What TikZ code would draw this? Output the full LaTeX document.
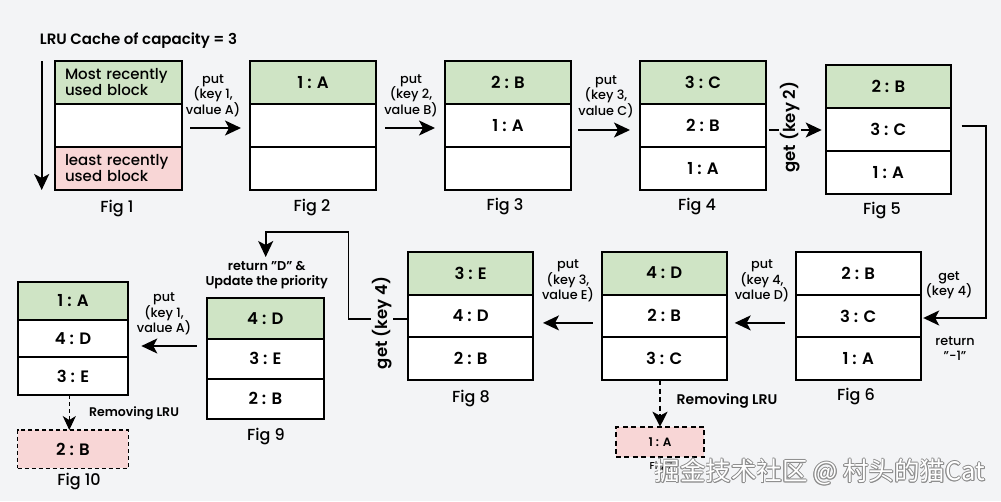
\documentclass[tikz,border=0pt]{standalone}
\usepackage{fontspec}
\setmainfont{Poppins}[UprightFont={* Medium},BoldFont={* SemiBold}]
\newfontfamily\cjk{Noto Sans CJK SC}
\usetikzlibrary{arrows.meta}
\definecolor{bg}{RGB}{243,244,246}
\definecolor{mru}{RGB}{207,228,197}
\definecolor{lru}{RGB}{248,214,214}
\definecolor{wmgray}{RGB}{140,140,140}
\tikzset{
  cell/.style={draw=black, line width=2pt, outer sep=0pt, inner sep=0pt,
    font=\bfseries\fontsize{16.5}{18}\selectfont},
  lbl/.style={font=\fontsize{12.8}{15.5}\selectfont, align=center, inner sep=0pt},
  figlbl/.style={font=\fontsize{16}{18}\selectfont, inner sep=0pt},
  rotlbl/.style={font=\bfseries\fontsize{16.5}{18}\selectfont, rotate=90, fill=bg, inner sep=1pt},
  arr/.style={line width=1.6pt, -{Stealth[length=16pt,width=15pt,inset=4pt]}},
  darr/.style={line width=2pt, dash pattern=on 5pt off 3.5pt, -{Stealth[length=15pt,width=15pt,inset=4pt]}},
  tdarr/.style={line width=1.2pt, dash pattern=on 4pt off 3pt, -{Stealth[length=14pt,width=13pt,inset=4pt]}},
  gone/.style={draw=black, line width=2pt, dash pattern=on 5pt off 3.5pt, fill=lru, outer sep=0pt, inner sep=0pt},
  wm/.style={font=\cjk\fontsize{25.5}{25.5}\selectfont, inner sep=0pt}
}
\newcommand\figbox[9]{%
  \node[cell, fill=#9, minimum width=#4pt, minimum height=#5pt, anchor=north west] (#1a) at (#2,#3) {#6};
  \node[cell, fill=white, minimum width=#4pt, minimum height=#5pt, anchor=north] (#1b) at (#1a.south) {#7};
  \node[cell, fill=white, minimum width=#4pt, minimum height=#5pt, anchor=north] (#1c) at (#1b.south) {#8};}
\begin{document}
\begin{tikzpicture}[x=1pt,y=-1pt]
\fill[bg] (0,0) rectangle (1001,501);
\useasboundingbox (0,0) rectangle (1001,501);

% title
\node[font=\bfseries\fontsize{15}{16}\selectfont, inner sep=0pt] (title) at (138.5,41) {LRU Cache of capacity = 3};

% Fig 1
\node[cell, fill=mru, minimum width=127pt, minimum height=43pt, anchor=north west, text width=107pt, align=left,
  font=\fontsize{15}{14}\selectfont] (f1a) at (55,61) {Most recently\\used block};
\node[cell, fill=white, minimum width=127pt, minimum height=43pt, anchor=north] (f1b) at (f1a.south) {};
\node[cell, fill=lru, minimum width=127pt, minimum height=43pt, anchor=north, text width=107pt, align=left,
  font=\fontsize{15}{14}\selectfont] (f1c) at (f1b.south) {least recently\\used block};
\coordinate (vtop) at (41.7,61);
\coordinate (vbot) at (41.7,190);
\draw[arr] (vtop) -- (vbot);
\node[figlbl] (l1) at (117,209) {Fig 1};

% Fig 2..5
\figbox{f2}{250}{61}{126}{43}{1 : A}{}{}{mru}
\node[figlbl] (l2) at (312,208) {Fig 2};
\figbox{f3}{445}{61}{126}{43}{2 : B}{1 : A}{}{mru}
\node[figlbl] (l3) at (505,207) {Fig 3};
\figbox{f4}{640}{61}{126}{43}{3 : C}{2 : B}{1 : A}{mru}
\node[figlbl] (l4) at (697,207) {Fig 4};
\figbox{f5}{825.7}{65}{125.3}{43.1}{2 : B}{3 : C}{1 : A}{mru}
\node[figlbl] (l5) at (882,211) {Fig 5};

\draw[arr, shorten <=8pt, shorten >=9pt] ([yshift=-2.5pt]f1b.east) -- ([yshift=-2.5pt]f2b.west);
\node[lbl] (p1) at (213,95.5) {put\\(key 1,\\value A)};
\draw[arr, shorten <=9pt, shorten >=10pt] ([yshift=-2.5pt]f2b.east) -- ([yshift=-2.5pt]f3b.west);
\node[lbl] (p2) at (411,95.5) {put\\(key 2,\\value B)};
\draw[arr, shorten <=7pt, shorten >=10pt] ([yshift=-4.5pt]f3b.east) -- ([yshift=-4.5pt]f4b.west);
\node[lbl] (p3) at (606,96.5) {put\\(key 3,\\value C)};
\draw[arr, shorten <=3pt, shorten >=4pt] ([yshift=-4.5pt]f4b.east) -- ([yshift=-4.5pt]f4b.east -| f5b.west);
\node[rotlbl] (g2) at (790,127) {get (key 2)};

% Fig 6,7,8
\figbox{f6}{795.7}{251.7}{125}{42.8}{2 : B}{3 : C}{1 : A}{white}
\node[figlbl] (l6) at (856,397) {Fig 6};
\figbox{f7}{601.7}{251.7}{125}{42.8}{4 : D}{2 : B}{3 : C}{mru}
\figbox{f8}{408.3}{251.7}{124.7}{42.8}{3 : E}{4 : D}{2 : B}{mru}
\node[figlbl] (l8) at (471,399) {Fig 8};

\coordinate (c5a) at (961.7,126);
\coordinate (c5b) at (985.7,126);
\coordinate (c5c) at (985.7,318);
\draw[arr, line cap=butt] (c5a) -- (c5b) -- (c5c) -- ([xshift=2.5pt]f6b.east |- c5c);
\node[lbl] (g4) at (949,285) {get\\(key 4)};
\node[lbl] (r1) at (955,348.5) {return\\"-1"};

\draw[arr, shorten <=11pt, shorten >=8pt] ([yshift=-7pt]f6b.west) -- ([yshift=-7pt]f7b.east);
\node[lbl] (p4) at (762,281) {put\\(key 4,\\value D)};
\draw[arr, shorten <=9pt, shorten >=10pt] ([yshift=-7pt]f7b.west) -- ([yshift=-7pt]f8b.east);
\node[lbl] (p5) at (568,281) {put\\(key 3,\\value E)};

\node[gone, minimum width=88.3pt, minimum height=30.6pt, font=\bfseries\fontsize{12}{14}\selectfont] (r7) at (660,442) {1 : A};
\draw[darr] ([xshift=-4.2pt]f7c.south) -- ([xshift=-4.2pt]f7c.south |- r7.north);
\node[font=\bfseries\fontsize{14}{16}\selectfont, inner sep=0pt] (rm7) at (727,401) {Removing LRU};
\node[font=\fontsize{10}{12}\selectfont, inner sep=0pt] (l7) at (661,467) {Fig 7};

% Fig 9, 10
\figbox{f9}{206.7}{298.3}{117.3}{40.2}{4 : D}{3 : E}{2 : B}{mru}
\node[figlbl] (l9) at (266,437) {Fig 9};
\coordinate (c8a) at (348.3,319);
\coordinate (c8b) at (348.3,231.7);
\coordinate (c8c) at (265.7,231.7);
\coordinate (c8d) at (265.7,257);
\draw[arr, line cap=butt] (f8b.west |- c8a) -- (c8a) -- (c8b) -- (c8c) -- (c8d);
\node[rotlbl] (g8) at (381.7,323) {get (key 4)};
\node[lbl, font=\bfseries\fontsize{12.8}{15.5}\selectfont] (u9) at (266.7,275) {return "D" \&\\Update the priority};

\figbox{f10}{17.7}{281.7}{110.6}{37.8}{1 : A}{4 : D}{3 : E}{mru}
\draw[arr, shorten <=10pt, shorten >=13pt] (f9b.west |- 0,346) -- (f10b.east |- 0,346);
\node[lbl] (p6) at (164,314) {put\\(key 1,\\value A)};
\node[gone, dash pattern=on 4pt off 3pt, line width=1.5pt, minimum width=110.6pt, minimum height=38.3pt,
  font=\bfseries\fontsize{16.5}{18}\selectfont] (r10) at (73,449.2) {2 : B};
\draw[tdarr] ([xshift=-3.7pt]f10c.south) -- ([xshift=-3.7pt]f10c.south |- r10.north);
\node[font=\bfseries\fontsize{12.5}{14}\selectfont, inner sep=0pt] (rm10) at (134,413) {Removing LRU};
\node[figlbl] (l10) at (79,482) {Fig 10};

% watermark
\foreach \dx/\dy in {0.8/0,-0.8/0,0/0.8,0/-0.8,0.6/0.6,-0.6/-0.6,0.6/-0.6,-0.6/0.6}{
  \node[wm, text=wmgray] at ([shift={(\dx,\dy)}]820,472) {掘金技术社区 @ 村头的猫Cat};}
\node[wm, text=white] (wmk) at (820,472) {掘金技术社区 @ 村头的猫Cat};
\end{tikzpicture}
\end{document}
